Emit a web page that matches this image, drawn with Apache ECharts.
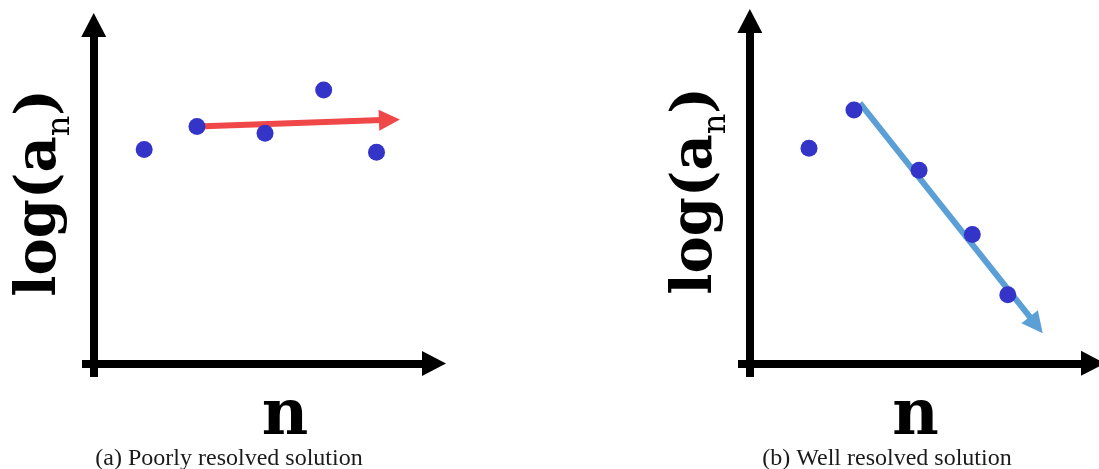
<!DOCTYPE html>
<html>
<head>
<meta charset="utf-8">
<script src="https://cdn.jsdelivr.net/npm/echarts@6/dist/echarts.min.js"></script>
<style>
  html, body { margin: 0; padding: 0; background: #ffffff; }
  #chart { width: 1099px; height: 469px; }
</style>
</head>
<body>
<div id="chart"></div>
<script>
// Panel (a): scattered coefficients, the fitted trend is almost flat
const poorN = [4.3, 8.8, 14.6, 19.6, 24.1];
const poorLogA = [15.8, 17.5, 17.0, 20.2, 15.6];
const poorTrend = [[8.8, 17.5], [25.2, 18.0]];

// Panel (b): coefficients decay steadily after the first two modes
const wellN = [5.0, 8.8, 14.3, 18.8, 21.8];
const wellLogA = [15.7, 18.5, 14.1, 9.4, 5.0];
const wellTrend = [[9.3, 19.0], [24.2, 2.8]];

const captions = ['(a) Poorly resolved solution', '(b) Well resolved solution'];
const xName = 'n';
const yName = '{m|log(a}{s|n}{m|)}';

const X_RANGE = [-1, 29];
const Y_RANGE = [-1, 25];

const zip = (xs, ys) => xs.map((x, i) => [x, ys[i]]);

const labelFont = 'DejaVu Serif';
const dotColor = '#3434c8';

const axisLineStyle = {
  show: true, onZero: true,
  lineStyle: { color: '#000', width: 8, cap: 'butt' },
  symbol: ['none', 'triangle'], symbolSize: [25, 24]
};

function xAxisFor(gridIndex, namePadLeft) {
  return {
    type: 'value', gridIndex, min: X_RANGE[0], max: X_RANGE[1],
    splitLine: { show: false }, axisTick: { show: false }, axisLabel: { show: false },
    axisLine: axisLineStyle,
    name: xName, nameLocation: 'middle', nameGap: 8,
    nameTextStyle: {
      fontFamily: labelFont, fontWeight: 'bold', fontSize: 64, color: '#000',
      padding: [0, 0, 0, namePadLeft]
    }
  };
}

function yAxisFor(gridIndex) {
  return {
    type: 'value', gridIndex, min: Y_RANGE[0], max: Y_RANGE[1],
    splitLine: { show: false }, axisTick: { show: false }, axisLabel: { show: false },
    axisLine: axisLineStyle,
    name: yName, nameLocation: 'middle', nameRotate: 90, nameGap: 5,
    nameTextStyle: {
      fontFamily: labelFont, fontWeight: 'bold', fontSize: 56, color: '#000',
      padding: [0, 0, 0, 16],
      rich: {
        m: { fontFamily: labelFont, fontWeight: 'bold', fontSize: 56, color: '#000', lineHeight: 64 },
        s: { fontFamily: labelFont, fontWeight: 'normal', fontSize: 32, color: '#000',
             verticalAlign: 'top', padding: [42, 0, 0, 0] }
      }
    }
  };
}

function trendSeries(idx, coords, color) {
  return {
    type: 'lines', coordinateSystem: 'cartesian2d',
    xAxisIndex: idx, yAxisIndex: idx, z: 2,
    symbol: ['none', 'triangle'], symbolSize: [22, 21],
    lineStyle: { color, width: 6, opacity: 1, curveness: 0 },
    data: [{ coords }]
  };
}

function dotSeries(idx, data) {
  return {
    type: 'scatter', xAxisIndex: idx, yAxisIndex: idx, z: 3,
    symbol: 'circle', symbolSize: 17,
    itemStyle: { color: dotColor, opacity: 1 },
    data
  };
}

const captionStyle = { fontFamily: 'Liberation Serif', fontWeight: 'normal', fontSize: 24, color: '#1a1a1a' };

const chart = echarts.init(document.getElementById('chart'), null, { renderer: 'canvas' });
chart.setOption({
  backgroundColor: '#ffffff',
  animation: false,
  title: [
    { text: captions[0], left: 229, top: 447, textAlign: 'center', padding: 0, textStyle: captionStyle },
    { text: captions[1], left: 887, top: 447, textAlign: 'center', padding: 0, textStyle: captionStyle }
  ],
  grid: [
    { left: 82, right: 665, top: 25, bottom: 92 },
    { left: 738, right: 6, top: 21, bottom: 92 }
  ],
  xAxis: [xAxisFor(0, 54), xAxisFor(1, 0)],
  yAxis: [yAxisFor(0), yAxisFor(1)],
  series: [
    trendSeries(0, poorTrend, '#f04848'),
    dotSeries(0, zip(poorN, poorLogA)),
    trendSeries(1, wellTrend, '#5a9fd6'),
    dotSeries(1, zip(wellN, wellLogA))
  ]
});
</script>
</body>
</html>
